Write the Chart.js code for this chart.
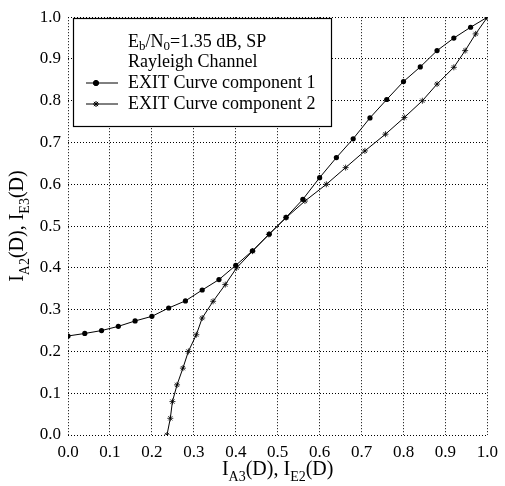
<!DOCTYPE html>
<html>
<head>
<meta charset="utf-8">
<script src="https://cdn.jsdelivr.net/npm/chart.js@4/dist/chart.umd.min.js"></script>
<style>
  html, body { margin: 0; padding: 0; background: #fff; }
  #wrap { width: 505px; height: 486px; }
</style>
</head>
<body>
<div id="wrap"><canvas id="js-chart" width="505" height="486"></canvas></div>
<script>
// curve 1: sampled on x
const curve1X = [0, 0.04, 0.08, 0.12, 0.16, 0.20, 0.24, 0.28, 0.32, 0.36, 0.40, 0.44, 0.48,
  0.52, 0.56, 0.60, 0.64, 0.68, 0.72, 0.76, 0.80, 0.84, 0.88, 0.92, 0.96, 1.00];
const curve1Y = [0.237, 0.243, 0.250, 0.260, 0.273, 0.284, 0.304, 0.321, 0.347, 0.372, 0.406, 0.441, 0.481,
  0.521, 0.564, 0.616, 0.664, 0.709, 0.759, 0.803, 0.846, 0.881, 0.920, 0.950, 0.976, 1.000];

// curve 2: sampled on y
const curve2Y = [0, 0.04, 0.08, 0.12, 0.16, 0.20, 0.24, 0.28, 0.32, 0.36, 0.40, 0.44, 0.48,
  0.52, 0.56, 0.60, 0.64, 0.68, 0.72, 0.76, 0.80, 0.84, 0.88, 0.92, 0.96, 1.00];
const curve2X = [0.236, 0.244, 0.249, 0.260, 0.274, 0.287, 0.306, 0.320, 0.346, 0.375, 0.402, 0.440, 0.479,
  0.520, 0.565, 0.616, 0.662, 0.708, 0.757, 0.802, 0.845, 0.880, 0.920, 0.947, 0.972, 1.000];

const axisTicks = [0, 0.1, 0.2, 0.3, 0.4, 0.5, 0.6, 0.7, 0.8, 0.9, 1.0];
const seriesLabels = ["EXIT Curve component 1", "EXIT Curve component 2"];

const SERIF = "'Liberation Serif', 'Times New Roman', serif";

// draws text with subscript pieces; parts = [[text, isSub], ...]
const richWidth = (ctx, parts, size) => {
  let w = 0;
  for (const [t, sub] of parts) {
    ctx.font = `${sub ? Math.round(size * 0.72) : size}px ${SERIF}`;
    w += ctx.measureText(t).width;
  }
  return w;
};
const drawRich = (ctx, parts, x, y, size) => {
  let cx = x;
  for (const [t, sub] of parts) {
    ctx.font = `${sub ? Math.round(size * 0.72) : size}px ${SERIF}`;
    ctx.fillText(t, cx, sub ? y + size * 0.28 : y);
    cx += ctx.measureText(t).width;
  }
};

const decorations = {
  id: "decorations",
  afterDraw(chart) {
    const ctx = chart.ctx;
    const area = chart.chartArea;
    ctx.save();
    ctx.fillStyle = "#000";
    ctx.textBaseline = "alphabetic";

    // x title
    const xt = [["I", false], ["A3", true], ["(D), I", false], ["E2", true], ["(D)", false]];
    const xw = richWidth(ctx, xt, 20);
    drawRich(ctx, xt, (area.left + area.right) / 2 - xw / 2, 475, 20);

    // y title
    const yt = [["I", false], ["A2", true], ["(D), I", false], ["E3", true], ["(D)", false]];
    const yw = richWidth(ctx, yt, 20);
    ctx.save();
    ctx.translate(23, (area.top + area.bottom) / 2);
    ctx.rotate(-Math.PI / 2);
    drawRich(ctx, yt, -yw / 2, 0, 20);
    ctx.restore();

    // legend box
    const bx = 73, by = 18, bw = 258, bh = 108;
    ctx.fillStyle = "#fff";
    ctx.fillRect(bx, by, bw, bh);
    ctx.strokeStyle = "#000";
    ctx.lineWidth = 1.2;
    ctx.strokeRect(bx + 0.5, by + 0.5, bw, bh);

    ctx.fillStyle = "#000";
    ctx.textBaseline = "middle";
    drawRich(ctx, [["E", false], ["b", true], ["/N", false], ["0", true], ["=1.35 dB, SP", false]], 128, 42, 18);
    ctx.font = `18px ${SERIF}`;
    ctx.fillText("Rayleigh Channel", 128, 62.5);
    ctx.fillText(seriesLabels[0], 128, 83);
    ctx.fillText(seriesLabels[1], 128, 104);

    ctx.lineWidth = 1;
    [[83, "circle"], [104, "star"]].forEach(([ly, style]) => {
      ctx.beginPath();
      ctx.moveTo(86, ly);
      ctx.lineTo(118, ly);
      ctx.stroke();
      Chart.helpers.drawPoint(ctx, {
        pointStyle: style,
        radius: style === "circle" ? 2.6 : 3,
        rotation: 0,
        borderWidth: 0.8
      }, 96, ly);
      if (style === "circle") ctx.fill();
    });

    ctx.restore();
  }
};

const ctx = document.getElementById("js-chart");

new Chart(ctx, {
  type: "scatter",
  data: {
    datasets: [
      {
        label: seriesLabels[0],
        data: curve1X.map((x, i) => ({ x, y: curve1Y[i] })),
        showLine: true,
        borderColor: "#000",
        backgroundColor: "#000",
        borderWidth: 1,
        pointStyle: "circle",
        pointRadius: 2.6,
        pointBorderWidth: 0,
        tension: 0
      },
      {
        label: seriesLabels[1],
        data: curve2X.map((x, i) => ({ x, y: curve2Y[i] })),
        showLine: true,
        borderColor: "#000",
        backgroundColor: "#000",
        borderWidth: 1,
        pointStyle: "star",
        pointRadius: 3,
        pointBorderWidth: 0.8,
        tension: 0
      }
    ]
  },
  options: {
    responsive: false,
    animation: false,
    events: [],
    layout: { padding: { left: 0, top: 12, right: 13, bottom: 0 } },
    plugins: {
      legend: { display: false },
      tooltip: { enabled: false }
    },
    scales: {
      x: {
        type: "linear",
        min: 0,
        max: 1,
        afterBuildTicks: (axis) => { axis.ticks = axisTicks.map(v => ({ value: v })); },
        afterFit: (axis) => { axis.height = 51; },
        ticks: {
          color: "#000",
          padding: 7,
          font: { family: SERIF, size: 17 },
          maxRotation: 0,
          callback: (v) => Number(v).toFixed(1)
        },
        grid: { color: "#000", lineWidth: 1, drawTicks: false },
        border: { display: false, dash: [1, 2] }
      },
      y: {
        type: "linear",
        min: 0,
        max: 1,
        afterBuildTicks: (axis) => { axis.ticks = axisTicks.map(v => ({ value: v })); },
        afterFit: (axis) => { axis.width = 68; },
        ticks: {
          color: "#000",
          padding: 7,
          font: { family: SERIF, size: 17 },
          callback: (v) => Number(v).toFixed(1)
        },
        grid: { color: "#000", lineWidth: 1, drawTicks: false },
        border: { display: false, dash: [1, 2] }
      }
    }
  },
  plugins: [decorations]
});
</script>
</body>
</html>
